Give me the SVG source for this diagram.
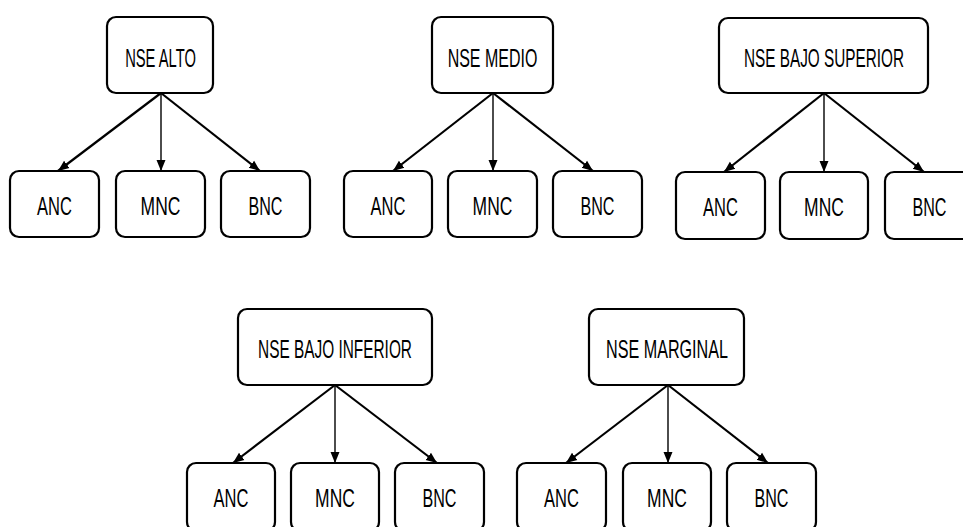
<svg xmlns="http://www.w3.org/2000/svg" width="963" height="527" viewBox="0 0 963 527">
<style>
.b{fill:#fff;stroke:#000;stroke-width:2.2}
.t{font-family:"Liberation Sans",Arial,sans-serif;font-size:25px;fill:#000;text-anchor:middle}
.c{stroke:#000;stroke-width:2.2;fill:none;marker-end:url(#ah)}
.v{stroke:#000;stroke-width:1.4;fill:none;marker-end:url(#ah)}
</style>
<defs>
<marker id="ah" markerUnits="userSpaceOnUse" markerWidth="12" markerHeight="12" viewBox="0 0 12 12" refX="11" refY="6" orient="auto">
<path d="M0,1.5 L11,6 L0,10.5 z" fill="#000"/>
</marker>
</defs>
<rect width="963" height="527" fill="#fff"/>
<g id="connectors">
<line class="c" x1="161" y1="93" x2="58" y2="171"/>
<line class="v" x1="161" y1="93" x2="161" y2="171"/>
<line class="c" x1="161" y1="93" x2="260" y2="171"/>
<line class="c" x1="493" y1="93" x2="393" y2="171"/>
<line class="v" x1="493" y1="93" x2="493" y2="171"/>
<line class="c" x1="493" y1="93" x2="593" y2="171"/>
<line class="c" x1="824" y1="93" x2="724" y2="172"/>
<line class="v" x1="824" y1="93" x2="824" y2="172"/>
<line class="c" x1="824" y1="93" x2="924" y2="172"/>
<line class="c" x1="335" y1="385" x2="233" y2="463"/>
<line class="v" x1="335" y1="385" x2="335" y2="463"/>
<line class="c" x1="335" y1="385" x2="437" y2="463"/>
<line class="c" x1="668" y1="385" x2="566" y2="463"/>
<line class="v" x1="668" y1="385" x2="668" y2="463"/>
<line class="c" x1="668" y1="385" x2="768" y2="463"/>
</g>
<g id="nse-alto"><rect class="b" x="107" y="17" width="106" height="76" rx="9"/><text class="t" transform="translate(160.5,67) scale(0.59,1)">NSE ALTO</text></g>
<g id="alto-anc"><rect class="b" x="10" y="171" width="89" height="66" rx="9"/><text class="t" transform="translate(54.5,215) scale(0.66,1)">ANC</text></g>
<g id="alto-mnc"><rect class="b" x="116" y="171" width="89" height="66" rx="9"/><text class="t" transform="translate(160.5,215) scale(0.70,1)">MNC</text></g>
<g id="alto-bnc"><rect class="b" x="221" y="171" width="89" height="66" rx="9"/><text class="t" transform="translate(265.5,215) scale(0.645,1)">BNC</text></g>

<g id="nse-medio"><rect class="b" x="432" y="17" width="121" height="76" rx="9"/><text class="t" transform="translate(492.5,67) scale(0.64,1)">NSE MEDIO</text></g>
<g id="medio-anc"><rect class="b" x="344" y="171" width="88" height="66" rx="9"/><text class="t" transform="translate(388,215) scale(0.66,1)">ANC</text></g>
<g id="medio-mnc"><rect class="b" x="448" y="171" width="89" height="66" rx="9"/><text class="t" transform="translate(492.5,215) scale(0.70,1)">MNC</text></g>
<g id="medio-bnc"><rect class="b" x="553" y="171" width="89" height="66" rx="9"/><text class="t" transform="translate(597.5,215) scale(0.645,1)">BNC</text></g>

<g id="nse-bajo-superior"><rect class="b" x="719" y="18" width="209" height="75" rx="9"/><text class="t" transform="translate(824,67) scale(0.613,1)">NSE BAJO SUPERIOR</text></g>
<g id="superior-anc"><rect class="b" x="676" y="172" width="89" height="67" rx="9"/><text class="t" transform="translate(720.5,216) scale(0.66,1)">ANC</text></g>
<g id="superior-mnc"><rect class="b" x="780" y="172" width="88" height="67" rx="9"/><text class="t" transform="translate(824,216) scale(0.70,1)">MNC</text></g>
<g id="superior-bnc"><rect class="b" x="885" y="172" width="89" height="67" rx="9"/><text class="t" transform="translate(929.5,216) scale(0.645,1)">BNC</text></g>

<g id="nse-bajo-inferior"><rect class="b" x="238" y="309" width="194" height="76" rx="9"/><text class="t" transform="translate(335,358) scale(0.616,1)">NSE BAJO INFERIOR</text></g>
<g id="inferior-anc"><rect class="b" x="187" y="463" width="88" height="68" rx="9"/><text class="t" transform="translate(231,507) scale(0.66,1)">ANC</text></g>
<g id="inferior-mnc"><rect class="b" x="291" y="463" width="88" height="68" rx="9"/><text class="t" transform="translate(335,507) scale(0.70,1)">MNC</text></g>
<g id="inferior-bnc"><rect class="b" x="395" y="463" width="89" height="68" rx="9"/><text class="t" transform="translate(439.5,507) scale(0.645,1)">BNC</text></g>

<g id="nse-marginal"><rect class="b" x="589" y="309" width="155" height="76" rx="9"/><text class="t" transform="translate(667,358) scale(0.646,1)">NSE MARGINAL</text></g>
<g id="marginal-anc"><rect class="b" x="517" y="463" width="89" height="68" rx="9"/><text class="t" transform="translate(561.5,507) scale(0.66,1)">ANC</text></g>
<g id="marginal-mnc"><rect class="b" x="623" y="463" width="88" height="68" rx="9"/><text class="t" transform="translate(667,507) scale(0.70,1)">MNC</text></g>
<g id="marginal-bnc"><rect class="b" x="727" y="463" width="89" height="68" rx="9"/><text class="t" transform="translate(771.5,507) scale(0.645,1)">BNC</text></g>
</svg>
